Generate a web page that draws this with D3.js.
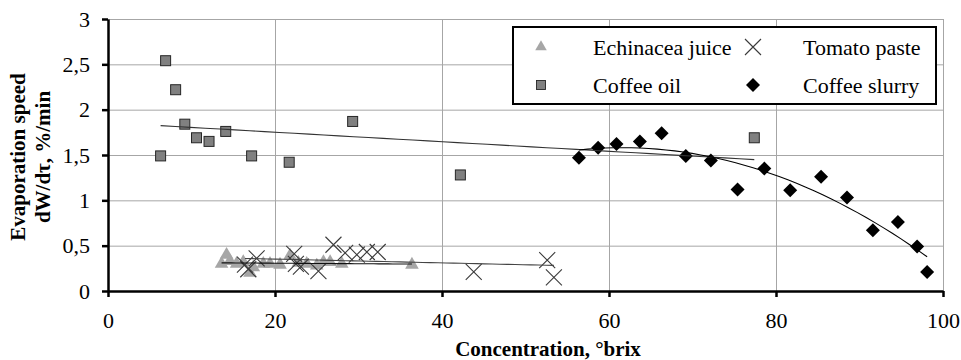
<!DOCTYPE html>
<html>
<head>
<meta charset="utf-8">
<script src="https://cdn.jsdelivr.net/npm/d3@7"></script>
<style>
  body { margin: 0; background: #fff; }
</style>
</head>
<body>
<div id="chart"></div>
<script>
// values
var echX = [13.6, 14.2, 14.6, 15.4, 16.2, 17.0, 17.4, 18.6, 19.4, 20.6, 21.8, 22.8, 23.8, 25.0, 25.8, 26.6, 28.0, 36.4];
var echY = [0.30, 0.40, 0.33, 0.30, 0.32, 0.20, 0.26, 0.30, 0.30, 0.29, 0.39, 0.31, 0.30, 0.28, 0.32, 0.32, 0.30, 0.29];

var tomX = [16.4, 16.8, 17.8, 22.3, 22.5, 23.1, 25.2, 27.0, 28.4, 29.8, 31.0, 32.3, 43.8, 52.6, 53.4];
var tomY = [0.29, 0.24, 0.36, 0.41, 0.30, 0.27, 0.22, 0.51, 0.42, 0.40, 0.43, 0.43, 0.21, 0.34, 0.15];

var oilX = [6.3, 6.9, 8.1, 9.2, 10.6, 12.1, 14.1, 17.2, 21.7, 29.3, 42.2, 77.4];
var oilY = [1.49, 2.54, 2.22, 1.84, 1.69, 1.65, 1.76, 1.49, 1.42, 1.87, 1.28, 1.69];

var slurX = [56.4, 58.7, 60.9, 63.7, 66.3, 69.2, 72.2, 75.4, 78.6, 81.7, 85.4, 88.5, 91.6, 94.6, 96.9, 98.1];
var slurY = [1.47, 1.58, 1.62, 1.65, 1.74, 1.49, 1.44, 1.12, 1.35, 1.11, 1.26, 1.03, 0.67, 0.76, 0.49, 0.21];

var xTicks = [0, 20, 40, 60, 80, 100];
var yTicks = [0, 0.5, 1, 1.5, 2, 2.5, 3];

var width = 961, height = 360;
var serif = '"Liberation Serif", "Times New Roman", serif';

var x = d3.scaleLinear().domain([0, 100]).range([108, 943]);
var y = d3.scaleLinear().domain([0, 3]).range([291, 19]);

var ru = d3.formatLocale({ decimal: ",", thousands: " ", grouping: [3], currency: ["", ""] });
var yFmt = function (d) { return ru.format("")(d); };

var svg = d3.select("#chart").append("svg")
    .attr("width", width)
    .attr("height", height)
    .style("font-family", serif);

// gridlines
svg.append("g")
    .attr("transform", "translate(0,291)")
    .call(d3.axisBottom(x).tickValues(xTicks).tickSize(-272).tickFormat(""))
    .call(function (g) { g.select(".domain").remove(); })
    .selectAll("line").attr("stroke", "#a6a6a6").attr("stroke-width", 1);

svg.append("g")
    .attr("transform", "translate(108,0)")
    .call(d3.axisLeft(y).tickValues(yTicks).tickSize(-835).tickFormat(""))
    .call(function (g) { g.select(".domain").remove(); })
    .selectAll("line").attr("stroke", "#a6a6a6").attr("stroke-width", 1);

// least squares polynomial fit (Excel style trendline)
function polyfit(xs, ys, order) {
    var n = order + 1, A = [], b = [];
    for (var i = 0; i < n; i++) {
        A.push([]);
        for (var j = 0; j < n; j++) {
            A[i].push(d3.sum(xs, function (v) { return Math.pow(v, i + j); }));
        }
        b.push(d3.sum(xs, function (v, k) { return ys[k] * Math.pow(v, i); }));
    }
    for (var c = 0; c < n; c++) {
        for (var r = c + 1; r < n; r++) {
            var f = A[r][c] / A[c][c];
            for (var k = c; k < n; k++) A[r][k] -= f * A[c][k];
            b[r] -= f * b[c];
        }
    }
    var coef = new Array(n);
    for (var r2 = n - 1; r2 >= 0; r2--) {
        var s = b[r2];
        for (var k2 = r2 + 1; k2 < n; k2++) s -= A[r2][k2] * coef[k2];
        coef[r2] = s / A[r2][r2];
    }
    return function (v) {
        return d3.sum(coef, function (cf, p) { return cf * Math.pow(v, p); });
    };
}

var line = d3.line().x(function (d) { return x(d[0]); }).y(function (d) { return y(d[1]); });

function trend(xs, ys, order, color) {
    var fn = polyfit(xs, ys, order);
    var ext = d3.extent(xs);
    var pts = d3.range(0, 41).map(function (i) {
        var v = ext[0] + (ext[1] - ext[0]) * i / 40;
        return [v, fn(v)];
    });
    svg.append("path")
        .attr("d", line(pts))
        .attr("fill", "none")
        .attr("stroke", color)
        .attr("stroke-width", 1.1);
}

// markers
function triangle(g) {
    g.append("path").attr("d", d3.symbol(d3.symbolTriangle, 80)()).attr("fill", "#a6a6a6");
}
function square(g) {
    g.append("rect").attr("x", -5).attr("y", -5).attr("width", 10).attr("height", 10)
        .attr("fill", "#808080").attr("stroke", "#262626").attr("stroke-width", 1);
}
function cross(g) {
    g.append("path").attr("d", "M-8,-8L8,8M-8,8L8,-8")
        .attr("stroke", "#3a3a3a").attr("stroke-width", 1.1).attr("fill", "none");
}
function diamond(g) {
    g.append("path").attr("d", "M0,-7L7,0L0,7L-7,0Z").attr("fill", "#000");
}

function series(xs, ys, marker) {
    svg.append("g").selectAll("g")
        .data(xs)
        .enter()
        .append("g")
        .attr("transform", function (d, i) { return "translate(" + x(d) + "," + y(ys[i]) + ")"; })
        .each(function () { marker(d3.select(this)); });
}

series(echX, echY, triangle);
series(tomX, tomY, cross);
series(oilX, oilY, square);
series(slurX, slurY, diamond);

trend(echX, echY, 1, "#111");
trend(tomX, tomY, 1, "#444");
trend(oilX, oilY, 1, "#333");
trend(slurX, slurY, 2, "#000");

// axes
var xAxis = svg.append("g")
    .attr("transform", "translate(0,291)")
    .call(d3.axisBottom(x).tickValues(xTicks).tickSize(6).tickSizeOuter(0).tickPadding(15).tickFormat(d3.format("d")));
var yAxis = svg.append("g")
    .attr("transform", "translate(108,0)")
    .call(d3.axisLeft(y).tickValues(yTicks).tickSize(6).tickSizeOuter(0).tickPadding(12).tickFormat(yFmt));

[xAxis, yAxis].forEach(function (g) {
    g.attr("font-family", null).attr("font-size", null);
    g.select(".domain").attr("stroke", "#000").attr("stroke-width", 2.5);
    g.selectAll(".tick line").attr("stroke", "#000").attr("stroke-width", 2.5);
    g.selectAll(".tick text")
        .attr("fill", "#000")
        .style("font-family", serif)
        .style("font-size", "22px");
});

// axis titles
svg.append("text")
    .attr("x", 548)
    .attr("y", 356)
    .attr("text-anchor", "middle")
    .style("font-size", "21px")
    .style("font-weight", "bold")
    .text("Concentration, °brix");

var yTitle = svg.append("text")
    .attr("transform", "translate(0,157) rotate(-90)")
    .attr("text-anchor", "middle")
    .style("font-size", "21px")
    .style("font-weight", "bold");
yTitle.append("tspan").attr("x", 0).attr("y", 25).text("Evaporation speed");
yTitle.append("tspan").attr("x", 0).attr("y", 50).text("dW/dτ, %/min");

// legend
var legendNames = ["Echinacea juice", "Tomato paste", "Coffee oil", "Coffee slurry"];
var legendMarkers = [triangle, cross, square, diamond];

var legend = svg.append("g");
legend.append("rect")
    .attr("x", 513).attr("y", 27).attr("width", 423).attr("height", 77)
    .attr("fill", "#fff").attr("stroke", "#000").attr("stroke-width", 2);

legendNames.forEach(function (name, i) {
    var col = i % 2, row = Math.floor(i / 2);
    var mx = col === 0 ? 541 : 753;
    var tx = col === 0 ? 593 : 803;
    var cy = row === 0 ? 47 : 85;
    var g = legend.append("g").attr("transform", "translate(" + mx + "," + cy + ")");
    legendMarkers[i](g);
    if (i === 0) g.select("path").attr("transform", "scale(0.85)");
    if (i === 2) g.select("rect").attr("transform", "scale(0.9)");
    legend.append("text")
        .attr("x", tx)
        .attr("y", cy + 8)
        .style("font-size", "22px")
        .text(name);
});
</script>
</body>
</html>
